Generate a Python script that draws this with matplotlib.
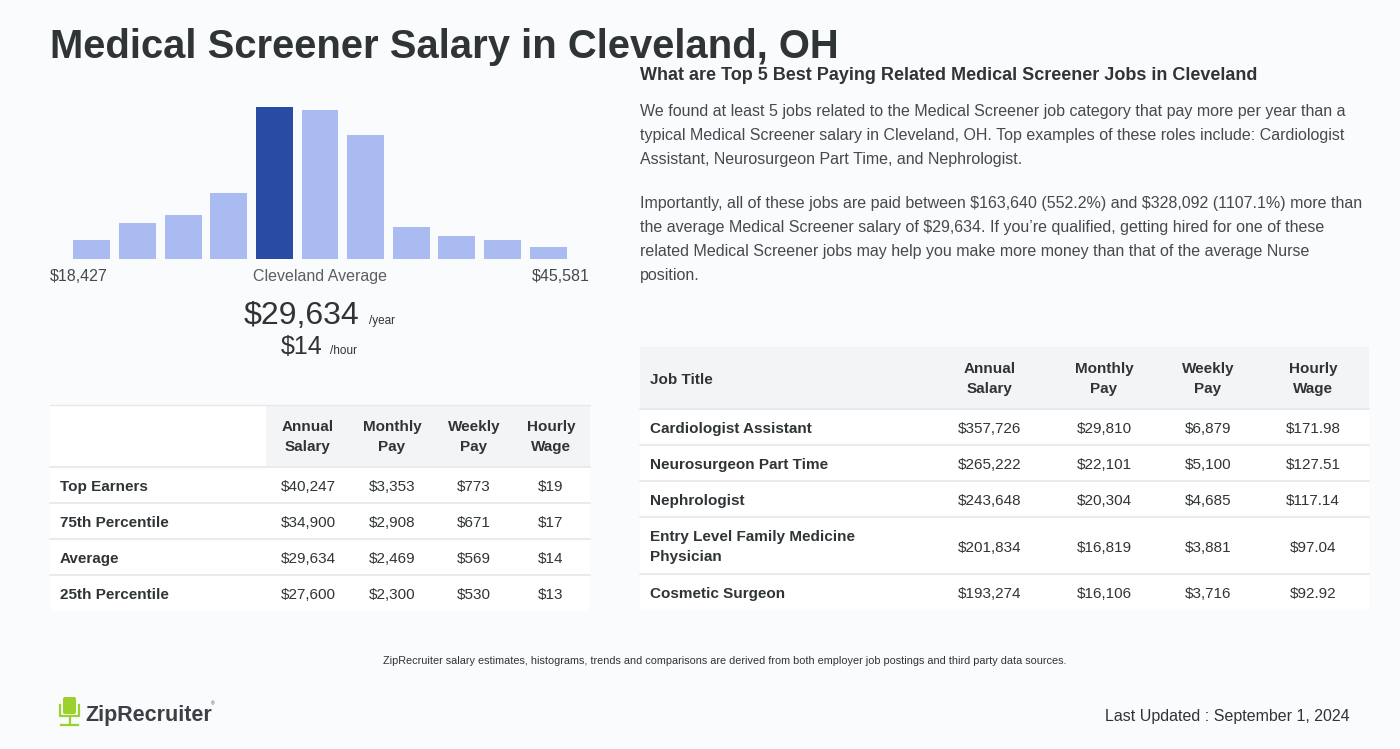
import matplotlib
matplotlib.use("Agg")
import matplotlib.pyplot as plt
from matplotlib.patches import Rectangle, FancyBboxPatch

plt.rcParams["font.family"] = ["Liberation Sans", "DejaVu Sans"]
plt.rcParams["text.parse_math"] = False

# histogram counts (relative bar heights)
hist_counts = [19, 36, 44, 66, 152, 149, 124, 32, 23, 19, 12]
highlight_bin = 4
low_label = "$18,427"
high_label = "$45,581"
avg_year = "$29,634"
avg_hour = "$14"

left_cols = ["Annual\nSalary", "Monthly\nPay", "Weekly\nPay", "Hourly\nWage"]
left_rows = ["Top Earners", "75th Percentile", "Average", "25th Percentile"]
left_annual = ["$40,247", "$34,900", "$29,634", "$27,600"]
left_monthly = ["$3,353", "$2,908", "$2,469", "$2,300"]
left_weekly = ["$773", "$671", "$569", "$530"]
left_hourly = ["$19", "$17", "$14", "$13"]

job_titles = ["Cardiologist Assistant", "Neurosurgeon Part Time", "Nephrologist",
              "Entry Level Family Medicine\nPhysician", "Cosmetic Surgeon"]
job_annual = ["$357,726", "$265,222", "$243,648", "$201,834", "$193,274"]
job_monthly = ["$29,810", "$22,101", "$20,304", "$16,819", "$16,106"]
job_weekly = ["$6,879", "$5,100", "$4,685", "$3,881", "$3,716"]
job_hourly = ["$171.98", "$127.51", "$117.14", "$97.04", "$92.92"]

BG = "#f9fbfd"
DARK = "#2f3437"
TEXT = "#444a4f"
HEAD_BG = "#f3f4f6"
LINE = "#e6e8eb"

W, H = 1400, 749
fig = plt.figure(figsize=(W / 100, H / 100), dpi=100, facecolor=BG)
ax = fig.add_axes([0, 0, 1, 1])
ax.set_xlim(0, W)
ax.set_ylim(H, 0)
ax.axis("off")
ax.set_facecolor(BG)


def put(x, yc, s, size, **kw):
    # place a single line so its cap height is centred on yc
    ax.text(x, yc + 0.56 * size, s, fontsize=size, va="baseline", **kw)


ax.text(50, 57.5, "Medical Screener Salary in Cleveland, OH", fontsize=28.8,
        fontweight="bold", color=DARK, ha="left", va="baseline")

# histogram
hx0, hx1, hy0, hy1 = 69, 571, 107, 259
hax = fig.add_axes([hx0 / W, 1 - hy1 / H, (hx1 - hx0) / W, (hy1 - hy0) / H])
colors = ["#2a4ba3" if i == highlight_bin else "#aabbf2" for i in range(len(hist_counts))]
hax.bar(range(len(hist_counts)), hist_counts, width=0.81, color=colors)
hax.set_xlim(-0.5, len(hist_counts) - 0.5)
hax.set_ylim(0, max(hist_counts))
hax.axis("off")

put(50, 275, low_label, 11.5, color=TEXT, ha="left")
put(320, 275, "Cleveland Average", 11.5, color="#5a5f63", ha="center")
put(590, 275, high_label, 11.5, color=TEXT, ha="right")
ax.text(359, 324, avg_year, fontsize=23, color=DARK, va="baseline", ha="right")
ax.text(369, 324, "/year", fontsize=8.5, color=DARK, va="baseline", ha="left")
ax.text(323, 354, avg_hour, fontsize=18, color=DARK, va="baseline", ha="right")
ax.text(330, 354, "/hour", fontsize=8.5, color=DARK, va="baseline", ha="left")

# left table
lx0, lx1 = 50, 590
ax.add_patch(Rectangle((lx0, 405), 216, 62, color="white", lw=0))
ax.add_patch(Rectangle((266, 405), lx1 - 266, 62, color=HEAD_BG, lw=0))
ax.plot([lx0, lx1], [405, 405], color=LINE, lw=1)
left_cx = [308, 392, 474, 551]
for cx, lab in zip(left_cx, left_cols):
    ax.text(cx, 437, lab, fontsize=11, fontweight="bold", color=DARK,
            ha="center", va="center", linespacing=1.6)
left_vals = list(zip(left_annual, left_monthly, left_weekly, left_hourly))
for i, name in enumerate(left_rows):
    y0 = 467 + 36 * i
    ax.add_patch(Rectangle((lx0, y0), lx1 - lx0, 36, color="white", lw=0))
    ax.plot([lx0, lx1], [y0, y0], color=LINE, lw=1.2)
    yc = y0 + 18
    put(60, yc, name, 11, fontweight="bold", color=DARK, ha="left")
    for cx, v in zip(left_cx, left_vals[i]):
        put(cx, yc, v, 11, color=DARK, ha="center")

# right section text
put(640, 73, "What are Top 5 Best Paying Related Medical Screener Jobs in Cleveland",
    13, fontweight="bold", color=DARK, ha="left")
para1 = ["We found at least 5 jobs related to the Medical Screener job category that pay more per year than a",
         "typical Medical Screener salary in Cleveland, OH. Top examples of these roles include: Cardiologist",
         "Assistant, Neurosurgeon Part Time, and Nephrologist."]
para2 = ["Importantly, all of these jobs are paid between $163,640 (552.2%) and $328,092 (1107.1%) more than",
         "the average Medical Screener salary of $29,634. If you\u2019re qualified, getting hired for one of these",
         "related Medical Screener jobs may help you make more money than that of the average Nurse",
         "position."]
for i, line in enumerate(para1):
    put(640, 110 + 24 * i, line, 11.5, color=TEXT, ha="left")
for i, line in enumerate(para2):
    put(640, 202 + 24 * i, line, 11.5, color=TEXT, ha="left")

# right table
rx0, rx1 = 640, 1369
ax.add_patch(Rectangle((rx0, 347), rx1 - rx0, 62, color=HEAD_BG, lw=0))
put(650, 378, "Job Title", 11, fontweight="bold", color=DARK, ha="left")
right_cx = [990, 1104, 1208, 1313]
for cx, lab in zip(right_cx, left_cols):
    ax.text(cx, 379, lab, fontsize=11, fontweight="bold", color=DARK,
            ha="center", va="center", linespacing=1.6)
row_h = [36, 36, 36, 57, 36]
y0 = 409
job_vals = list(zip(job_annual, job_monthly, job_weekly, job_hourly))
for i, name in enumerate(job_titles):
    h = row_h[i]
    ax.add_patch(Rectangle((rx0, y0), rx1 - rx0, h, color="white", lw=0))
    ax.plot([rx0, rx1], [y0, y0], color=LINE, lw=1.2)
    yc = y0 + h / 2
    if "\n" in name:
        ax.text(650, yc + 1.5, name, fontsize=11, fontweight="bold", color=DARK,
                ha="left", va="center", linespacing=1.6)
    else:
        put(650, yc, name, 11, fontweight="bold", color=DARK, ha="left")
    for cx, v in zip(right_cx, job_vals[i]):
        put(cx, yc, v, 11, color=DARK, ha="center")
    y0 += h

put(725, 660, "ZipRecruiter salary estimates, histograms, trends and comparisons are derived from both employer job postings and third party data sources.",
    7.85, color=DARK, ha="center")

# logo: simple chair icon + wordmark
green = "#9bd12c"
ax.add_patch(FancyBboxPatch((63, 697), 13, 17, boxstyle="round,pad=0,rounding_size=2", color=green, lw=0))
ax.plot([60, 60, 79, 79], [705, 716, 716, 705], color=green, lw=1.6)
ax.plot([69.5, 69.5], [716, 724], color=green, lw=1.6)
ax.plot([61, 78], [725, 725], color=green, lw=1.6)
put(85, 712, "ZipRecruiter", 15.5, fontweight="bold", color="#3b4045", ha="left")
ax.text(211, 704, "\u00ae", fontsize=3.5, color="#3b4045", ha="left", va="center")

ax.text(1350, 720.5, "Last Updated : September 1, 2024", fontsize=11.5, color=DARK,
        ha="right", va="baseline")

fig.savefig("out.png", dpi=100, facecolor=BG)
